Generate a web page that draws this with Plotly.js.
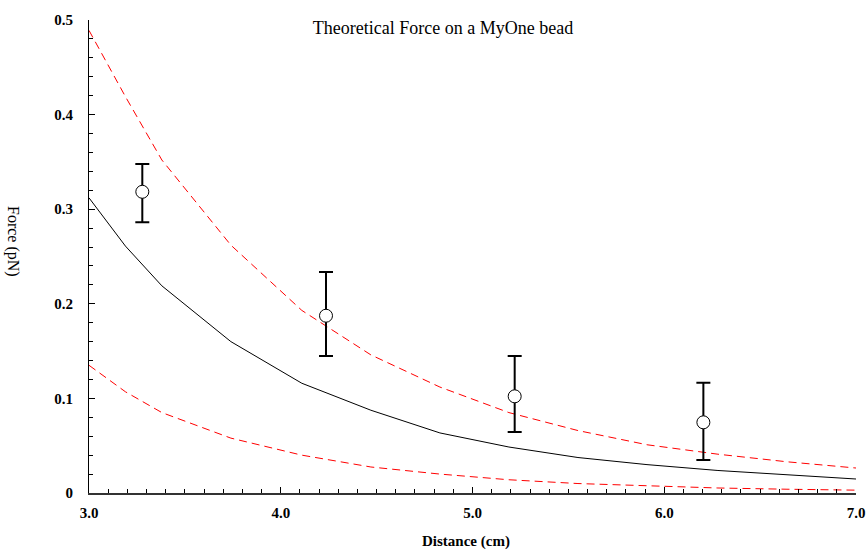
<!DOCTYPE html>
<html>
<head>
<meta charset="utf-8">
<script src="https://cdn.plot.ly/plotly-3.0.1.min.js"></script>
<style>html,body{margin:0;padding:0;background:#fff;}#chart{width:867px;height:551px;}</style>
</head>
<body>
<div id="chart"></div>
<script>
// Theory curves (distance in cm, force in pN)
const distance = [3.0, 3.19, 3.38, 3.74, 4.11, 4.47, 4.83, 5.19, 5.55, 5.91, 6.28, 6.64, 7.0];
const forceTheory = [0.312, 0.261, 0.219, 0.160, 0.116, 0.0875, 0.0635, 0.0486, 0.0375, 0.0300, 0.0238, 0.0190, 0.0148];
const forceUpper = [0.489, 0.419, 0.352, 0.262, 0.193, 0.146, 0.112, 0.085, 0.066, 0.051, 0.041, 0.033, 0.0264];
const forceLower = [0.135, 0.107, 0.085, 0.058, 0.040, 0.0275, 0.020, 0.0140, 0.0100, 0.0075, 0.0053, 0.0040, 0.0030];

// Measured points with error bars
const measDistance = [3.278, 4.236, 5.220, 6.204];
const measForce = [0.3184, 0.1874, 0.1022, 0.0747];
const errPlus = [0.0294, 0.0462, 0.0426, 0.0419];
const errMinus = [0.0322, 0.0426, 0.0377, 0.0398];

// Tick labels
const xTickVals = [3, 4, 5, 6, 7];
const xTickText = ['3.0', '4.0', '5.0', '6.0', '7.0'];
const yTickVals = [0, 0.1, 0.2, 0.3, 0.4, 0.5];
const yTickText = ['0', '0.1', '0.2', '0.3', '0.4', '0.5'];

const serif = 'Liberation Serif, Times New Roman, serif';

const traces = [
  {x: distance, y: forceUpper, type: 'scatter', mode: 'lines',
   line: {color: '#ff0000', width: 1, dash: '8px,5px'}, hoverinfo: 'skip'},
  {x: distance, y: forceLower, type: 'scatter', mode: 'lines',
   line: {color: '#ff0000', width: 1, dash: '8px,5px'}, hoverinfo: 'skip'},
  {x: distance, y: forceTheory, type: 'scatter', mode: 'lines',
   line: {color: '#000000', width: 1}},
  {x: measDistance, y: measForce, type: 'scatter', mode: 'markers',
   marker: {symbol: 'circle', size: 13, color: '#ffffff', line: {color: '#000000', width: 1}},
   error_y: {type: 'data', symmetric: false, array: errPlus, arrayminus: errMinus,
             color: '#000000', thickness: 2, width: 7}}
];

const layout = {
  width: 867, height: 551,
  margin: {l: 89, r: 11, t: 20, b: 58},
  paper_bgcolor: '#ffffff', plot_bgcolor: '#ffffff',
  showlegend: false,
  font: {family: serif, color: '#000000'},
  title: {text: 'Theoretical Force on a MyOne bead', font: {family: serif, size: 18, color: '#000'},
          x: 443/867, xanchor: 'center', xref: 'container', y: 1 - 28/551, yanchor: 'middle', yref: 'container'},
  xaxis: {
    range: [3, 7], showgrid: false, zeroline: false,
    showline: true, linecolor: '#333333', linewidth: 2,
    tickmode: 'array', tickvals: xTickVals, ticktext: xTickText,
    ticks: 'inside', ticklen: 6, tickcolor: '#000', tickwidth: 1,
    minor: {dtick: 0.1, ticks: 'inside', ticklen: 4, tickcolor: '#000', tickwidth: 1, showgrid: false},
    tickfont: {family: serif, size: 15, color: '#000', weight: 'bold'},
    ticklabelstandoff: 5
  },
  yaxis: {
    range: [0, 0.5], showgrid: false, zeroline: false,
    showline: true, linecolor: '#000000', linewidth: 1,
    tickmode: 'array', tickvals: yTickVals, ticktext: yTickText,
    ticks: 'inside', ticklen: 6, tickcolor: '#000', tickwidth: 1,
    minor: {dtick: 0.02, ticks: 'inside', ticklen: 4, tickcolor: '#000', tickwidth: 1, showgrid: false},
    tickfont: {family: serif, size: 15, color: '#000', weight: 'bold'},
    ticklabelstandoff: 12
  },
  annotations: [
    {text: 'Force (pN)', textangle: 90, xref: 'paper', yref: 'paper',
     x: (13 - 89) / 767, y: (493 - 241) / 473, xanchor: 'center', yanchor: 'middle', showarrow: false,
     font: {family: serif, size: 16, color: '#000'}},
    {text: '<b>Distance (cm)</b>', xref: 'paper', yref: 'paper',
     x: (466 - 89) / 767, y: (493 - 541) / 473, xanchor: 'center', yanchor: 'middle', showarrow: false,
     font: {family: serif, size: 15, color: '#000'}}
  ]
};

Plotly.newPlot('chart', traces, layout, {displayModeBar: false, staticPlot: true});
</script>
</body>
</html>
